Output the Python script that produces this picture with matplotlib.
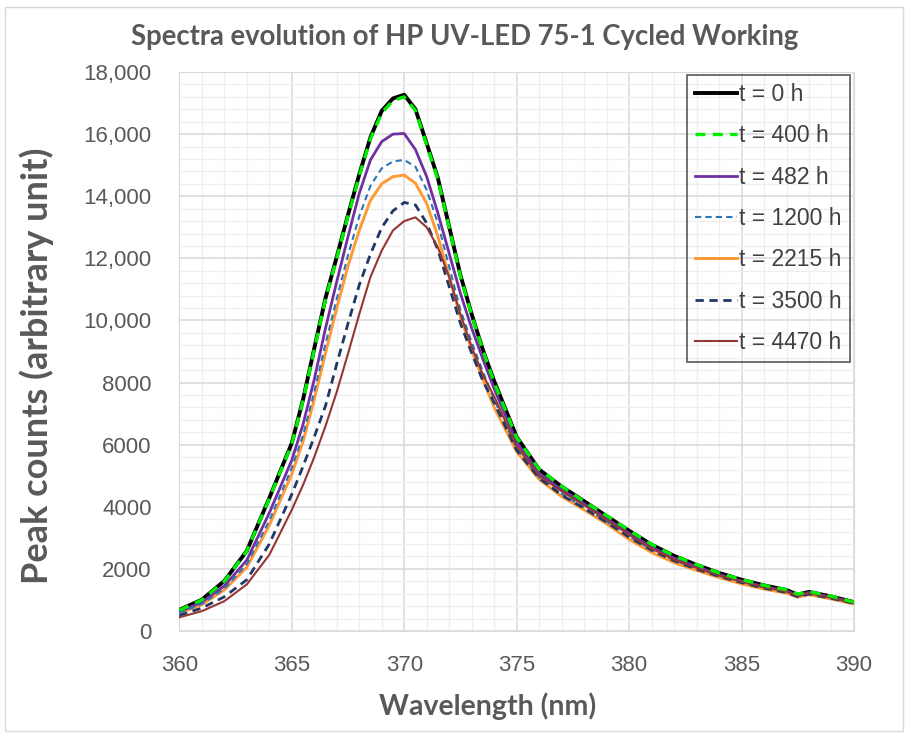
import numpy as np
import matplotlib
matplotlib.use("Agg")
import matplotlib.pyplot as plt
from matplotlib.patches import Rectangle
from matplotlib.ticker import MultipleLocator

wavelength = [360, 361, 362, 363, 364, 365, 365.5, 366, 366.5, 367, 367.5, 368, 368.5,
              369, 369.5, 370, 370.5, 371, 371.5, 372, 372.5, 373, 373.5, 374, 375, 376,
              377, 378, 379, 380, 381, 382, 383, 384, 385, 386, 387, 387.5, 388, 389, 390]

t0 = [680, 1010, 1610, 2580, 4280, 6050, 7450, 9100, 10720, 12050, 13400, 14700, 15900,
      16750, 17150, 17270, 16800, 15700, 14580, 13020, 11460, 10200, 9050, 8050, 6250, 5200,
      4650, 4180, 3700, 3230, 2780, 2420, 2130, 1870, 1650, 1470, 1320, 1170, 1260, 1110, 930]
t400 = [670, 1000, 1600, 2570, 4260, 6020, 7420, 9060, 10680, 12010, 13360, 14650, 15850,
        16680, 17080, 17200, 16760, 15650, 14540, 12980, 11420, 10170, 9040, 8000, 6230, 5210,
        4660, 4170, 3720, 3240, 2790, 2420, 2140, 1870, 1660, 1470, 1330, 1190, 1270, 1120, 930]
t482 = [620, 930, 1450, 2280, 3800, 5500, 6650, 8100, 9750, 11250, 12700, 14090, 15170,
        15760, 16000, 16020, 15500, 14630, 13450, 12160, 10870, 9750, 8750, 7800, 6080, 5080,
        4550, 4100, 3620, 3150, 2700, 2350, 2070, 1820, 1610, 1430, 1290, 1150, 1240, 1090, 920]
t1200 = [580, 870, 1360, 2150, 3550, 5250, 6300, 7700, 9250, 10700, 12100, 13350, 14340,
         14900, 15120, 15170, 14950, 14200, 13130, 11730, 10340, 9300, 8350, 7450, 5880, 4950,
         4420, 3980, 3520, 3050, 2620, 2280, 2010, 1780, 1580, 1400, 1260, 1120, 1210, 1060, 900]
t2215 = [570, 850, 1320, 2050, 3400, 5050, 6100, 7450, 8950, 10400, 11750, 12900, 13870,
         14400, 14630, 14680, 14420, 13770, 12700, 11410, 10120, 9050, 8100, 7200, 5780, 4880,
         4330, 3900, 3450, 2950, 2530, 2200, 1950, 1720, 1520, 1350, 1220, 1090, 1170, 1030, 870]
t3500 = [500, 740, 1100, 1650, 2800, 4400, 5300, 6250, 7250, 8600, 9900, 11140, 12140,
         12990, 13530, 13800, 13720, 13130, 12270, 11090, 9910, 8950, 8050, 7350, 5820, 4920,
         4380, 3950, 3500, 3020, 2600, 2260, 1990, 1760, 1560, 1380, 1240, 1100, 1190, 1050, 890]
t4470 = [440, 640, 960, 1500, 2450, 3900, 4700, 5600, 6600, 7700, 8930, 10200, 11400,
         12250, 12900, 13200, 13320, 13000, 12350, 11400, 10200, 9150, 8250, 7550, 5950, 5000,
         4500, 4050, 3580, 3100, 2650, 2300, 2030, 1790, 1590, 1410, 1270, 1130, 1220, 1070, 910]

labels = ["t = 0 h", "t = 400 h", "t = 482 h", "t = 1200 h", "t = 2215 h", "t = 3500 h", "t = 4470 h"]
yticks = [0, 2000, 4000, 6000, 8000, 10000, 12000, 14000, 16000, 18000]
ytick_labels = ["0", "2000", "4000", "6000", "8000", "10,000", "12,000", "14,000", "16,000", "18,000"]
xticks = [360, 365, 370, 375, 380, 385, 390]

fig = plt.figure(figsize=(9.08, 7.35), dpi=100)
ax = fig.add_axes([0.1975, 0.1415, 0.743, 0.7605])

ax.plot(wavelength, t0, color="black", lw=2.8, label=labels[0], zorder=3)
ax.plot(wavelength, t400, color="#00ee00", lw=2.4, ls=(0, (3, 2.2)), label=labels[1], zorder=4)
ax.plot(wavelength, t482, color="#7030A0", lw=2.0, label=labels[2], zorder=3)
ax.plot(wavelength, t1200, color="#2E75B6", lw=1.5, ls=(0, (3, 2)), label=labels[3], zorder=3)
ax.plot(wavelength, t2215, color="#FF9933", lw=2.1, label=labels[4], zorder=2)
ax.plot(wavelength, t3500, color="#1F3864", lw=2.0, ls=(0, (3, 2)), label=labels[5], zorder=3)
ax.plot(wavelength, t4470, color="#943634", lw=1.5, label=labels[6], zorder=3)

ax.set_xlim(360, 390)
ax.set_ylim(0, 18000)
ax.set_xticks(xticks)
ax.set_yticks(yticks)
ax.set_yticklabels(ytick_labels)
ax.xaxis.set_minor_locator(MultipleLocator(1))
ax.yaxis.set_minor_locator(MultipleLocator(400))
ax.grid(which="major", color="#D9D9D9", lw=1.1, zorder=0)
ax.grid(which="minor", color="#EFEFEF", lw=0.9, zorder=0)
ax.set_axisbelow(True)
ax.tick_params(which="both", length=0, labelsize=16, labelcolor="#595959")
ax.tick_params(axis="y", pad=20)
ax.tick_params(axis="x", pad=17)
for lab in ax.get_xticklabels() + ax.get_yticklabels():
    lab.set_fontfamily("Liberation Sans")
for s in ax.spines.values():
    s.set_color("#D9D9D9")

ax.set_xlabel("Wavelength (nm)", fontsize=20.5, fontweight="bold", color="#595959", family="Lato")
ax.xaxis.set_label_coords(0.457, -0.11)
ax.set_ylabel("Peak counts (arbitrary unit)", fontsize=26, fontweight="bold", color="#595959",
              family="Lato")
ax.yaxis.set_label_coords(-0.186, 0.475)
fig.text(0.512, 0.95, "Spectra evolution of HP UV-LED 75-1 Cycled Working", ha="center", va="center",
         fontsize=19.8, fontweight="bold", color="#595959", family="Lato")

leg = ax.legend(loc="upper right", bbox_to_anchor=(0.9935, 0.9946), borderaxespad=0,
                labelspacing=0.8, handlelength=1.85, handletextpad=0.08, borderpad=0.35,
                fancybox=False, prop={"family": "Liberation Sans", "size": 16.5})
leg.get_frame().set_facecolor("none")
leg.get_frame().set_edgecolor("#404040")
leg.get_frame().set_linewidth(1.3)
for txt in leg.get_texts():
    txt.set_color("#404040")

fig.patches.append(Rectangle((0.006, 0.006), 0.988, 0.984, transform=fig.transFigure,
                             fill=False, edgecolor="#D9D9D9", lw=1))

fig.savefig("out.png", dpi=100)
